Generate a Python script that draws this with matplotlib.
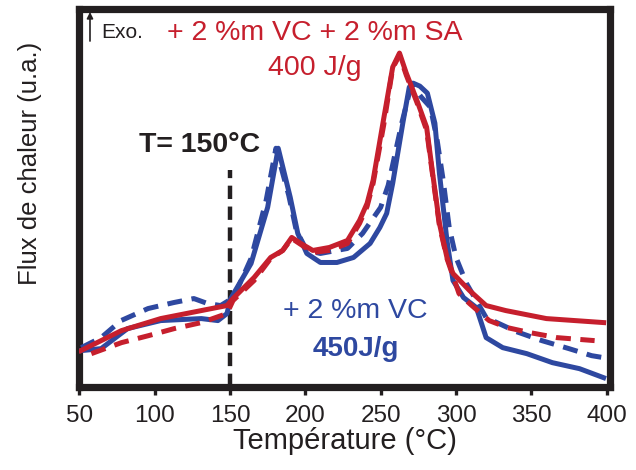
import matplotlib
matplotlib.use('Agg')
import numpy as np
import matplotlib.pyplot as plt

plt.rcParams['font.family'] = ['Liberation Sans', 'DejaVu Sans']

# temperature (degC) / heat flow (arbitrary units)
t_vc = [51, 64.5, 82, 104, 131, 142, 148, 150.5, 164, 175, 182, 190, 195, 201,
        210, 221, 232, 243, 249.5, 254, 258, 264.7, 269, 271.5, 276, 281, 286,
        289, 294, 298, 305, 313.5, 320, 331, 347, 364, 382, 398]
q_vc = [36, 38, 58, 66, 68, 66, 73, 88, 123, 179, 238, 189, 153, 133,
        124, 124, 129, 143, 159, 173, 203, 263, 299, 303, 300, 293, 263,
        213, 146, 106, 89, 79, 49, 39, 33, 24, 18, 9]

t_vc_d = [51.3, 64.5, 77.7, 95.6, 112.7, 126, 135.2, 143.8, 152.4, 164, 174,
          180.5, 189, 194, 201, 210, 228, 238, 250, 255, 264, 269.5, 272,
          277, 283, 287.5, 291.5, 295.5, 300, 307, 320, 340, 357, 375, 390, 398]
q_vc_d = [39, 49, 66, 78, 84, 88, 83, 81, 89, 128, 186,
          238, 191, 156, 136, 133, 138, 153, 179, 201, 263, 296, 299,
          289, 279, 246, 206, 159, 129, 103, 69, 55, 46, 38, 31, 29]

t_sa = [51, 78, 104, 131, 148, 152, 166, 177, 185, 191, 197, 205, 216, 228,
        236, 241, 245, 251.5, 258, 262.5, 267, 274, 280.5, 284.5, 289, 294,
        298, 309, 320, 333, 360, 398]
q_sa = [36, 56, 68, 76, 81, 88, 109, 129, 136, 149, 143, 136, 139, 146,
        166, 183, 206, 263, 319, 333, 313, 286, 259, 213, 163, 129,
        113, 96, 81, 76, 68, 64]

t_sa_d = [58, 78, 96, 113, 131, 148, 152, 166, 177, 185, 191, 197, 205, 216,
          228, 236, 241, 245, 252, 258, 262.5, 267, 274, 280.5, 284.5, 289,
          294, 302, 309, 322, 334, 349, 367, 392]
q_sa_d = [33, 44, 51, 58, 64, 73, 86, 106, 128, 136, 148, 142, 134, 136,
          143, 163, 180, 203, 261, 318, 331, 311, 284, 256, 211, 161,
          128, 93, 83, 66, 59, 54, 49, 46]

t_xticks = [50, 100, 150, 200, 250, 300, 350, 400]
t_mark = 150

red = '#c61f2d'
blue = '#2e48a0'
dark = '#231f20'

fig = plt.figure(figsize=(6.36, 4.70), dpi=100)
ax = fig.add_axes([0.1242, 0.1772, 0.8349, 0.8037])

lw = 3.6
ax.plot(t_vc, q_vc, color=blue, lw=lw, solid_joinstyle='round', zorder=3)
ax.plot(t_vc_d, q_vc_d, color=blue, lw=lw, dashes=(3, 1.9), zorder=3)
ax.plot(t_sa_d, q_sa_d, color=red, lw=lw, dashes=(3, 1.9), zorder=4)
ax.plot(t_sa, q_sa, color=red, lw=lw, solid_joinstyle='round', zorder=4)

ax.plot([t_mark, t_mark], [0, 216], color=dark, lw=3.2, dashes=(3, 1.7), zorder=2)

ax.set_xlim(49.8, 402.2)
ax.set_ylim(0, 377)
ax.set_xticks(t_xticks)
ax.set_yticks([])
for s in ax.spines.values():
    s.set_linewidth(5.2)
    s.set_color(dark)
ax.tick_params(axis='x', direction='out', length=6, width=2.4, color=dark,
               labelsize=17.5, pad=7, labelcolor=dark)

ax.set_xlabel('Température (°C)', fontsize=21, color=dark, labelpad=0)
ax.set_ylabel('Flux de chaleur (u.a.)', fontsize=18.5, color=dark)
ax.yaxis.set_label_coords(-0.07, 0.59)

ax.text(206.4, 353, '+ 2 %m VC + 2 %m SA', color=red, fontsize=20.5,
        ha='center', va='center')
ax.text(206.4, 318, '400 J/g', color=red, fontsize=20.5, ha='center', va='center')
ax.text(130, 241, 'T= 150°C', color=dark, fontsize=20.5, fontweight='bold',
        ha='center', va='center')
ax.text(233, 76, '+ 2 %m VC', color=blue, fontsize=20.5, ha='center', va='center')
ax.text(233.5, 38, '450J/g', color=blue, fontsize=20, fontweight='bold',
        ha='center', va='center')

ax.annotate('', xy=(57.1, 374), xytext=(57.1, 345),
            arrowprops=dict(arrowstyle='-|>', color=dark, lw=1.2,
                            mutation_scale=9, shrinkA=0, shrinkB=0))
ax.text(64.5, 354, 'Exo.', color=dark, fontsize=15, ha='left', va='center')

fig.savefig('out.png', dpi=100)
